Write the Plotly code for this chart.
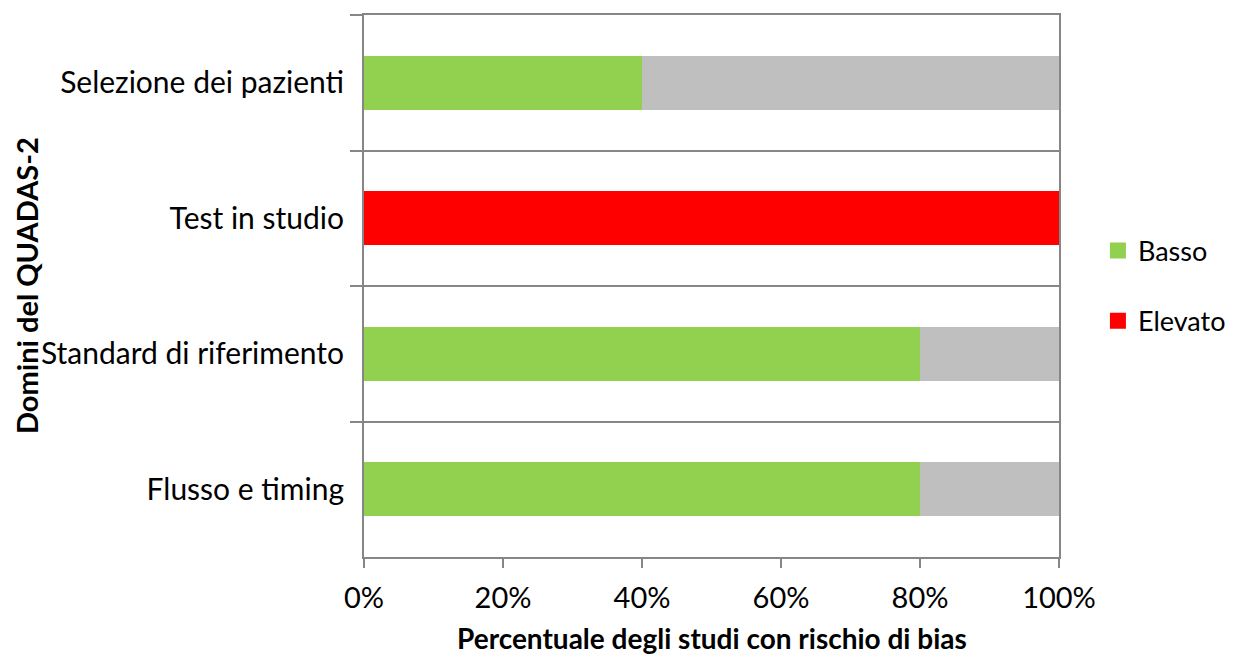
import plotly.graph_objects as go

categories = ["Selezione dei pazienti", "Test in studio", "Standard di riferimento", "Flusso e timing"]
basso = [40, 0, 80, 80]
elevato = [0, 100, 0, 0]
non_chiaro = [60, 0, 20, 20]
x_ticks = [0, 20, 40, 60, 80, 100]
x_tick_labels = ["0%", "20%", "40%", "60%", "80%", "100%"]

FONT = "Lato"
LINE = "#868686"
FS = 29
GREEN = "#92D050"
RED = "#FF0000"
GRAY = "#BFBFBF"

fig = go.Figure()
fig.add_trace(go.Bar(y=categories, x=basso, orientation="h", name="Basso",
                     marker=dict(color=GREEN, line=dict(width=0)), showlegend=False))
fig.add_trace(go.Bar(y=categories, x=elevato, orientation="h", name="Elevato",
                     marker=dict(color=RED, line=dict(width=0)), showlegend=False))
fig.add_trace(go.Bar(y=categories, x=non_chiaro, orientation="h", name="Non chiaro",
                     marker=dict(color=GRAY, line=dict(width=0)), showlegend=False))
# legend entries (square swatches)
fig.add_trace(go.Scatter(x=[None], y=[None], mode="markers", name="Basso",
                         marker=dict(symbol="square", size=19, color=GREEN), legendgroup="a"))
fig.add_trace(go.Scatter(x=[None], y=[None], mode="markers", name="Elevato",
                         marker=dict(symbol="square", size=19, color=RED), legendgroup="b"))

fig.update_layout(
    barmode="stack",
    bargap=0.6,
    width=1229, height=646,
    margin=dict(l=356, r=178, t=7, b=97, pad=0, autoexpand=False),
    paper_bgcolor="white", plot_bgcolor="white",
    font=dict(family=FONT, size=FS, color="black"),
    legend=dict(x=1.056, y=0.5, xanchor="left", yanchor="middle",
                font=dict(size=27), tracegroupgap=32, itemwidth=30),
    showlegend=True,
    annotations=[
        dict(text="<b>Percentuale degli studi con rischio di bias</b>", xref="paper", yref="paper",
             x=0.5, y=0, xanchor="center", yanchor="middle", yshift=-81, showarrow=False,
             font=dict(size=28)),
        dict(text="<b>Domini del QUADAS-2</b>", xref="paper", yref="paper",
             x=0, y=0.5, xanchor="center", yanchor="middle", xshift=-338, textangle=-90,
             showarrow=False, font=dict(size=29)),
    ],
)
fig.update_xaxes(
    range=[0, 100], tickvals=x_ticks, ticktext=x_tick_labels,
    ticks="outside", ticklen=9, tickwidth=2, tickcolor=LINE,
    showline=True, linecolor=LINE, linewidth=2, mirror=True,
    showgrid=False, zeroline=False, automargin=False,
    ticklabelstandoff=5,
    tickfont=dict(size=FS),
)
fig.update_yaxes(
    type="category", categoryorder="array", categoryarray=categories,
    autorange="reversed", tickson="boundaries",
    ticks="outside", ticklen=12, tickwidth=2, tickcolor=LINE,
    showline=True, linecolor=LINE, linewidth=2, mirror=True,
    showgrid=True, gridcolor=LINE, gridwidth=2, automargin=False,
    ticklabelstandoff=12,
    tickfont=dict(size=30),
)

fig.write_html("out.html")
